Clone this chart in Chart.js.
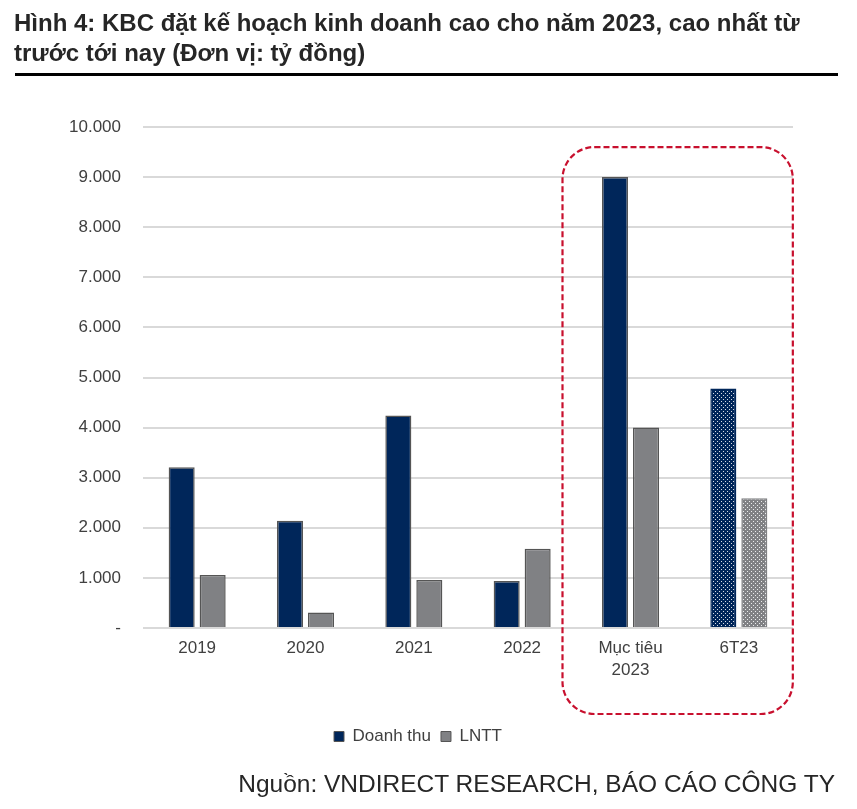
<!DOCTYPE html>
<html>
<head>
<meta charset="utf-8">
<script src="https://cdn.jsdelivr.net/npm/chart.js@4"></script>
<style>
  body { margin: 0; background: #fff; font-family: "Liberation Sans", Arial, sans-serif; }
  #wrap { position: relative; width: 857px; height: 809px; overflow: hidden; }
  #myChart { position: absolute; left: 0; top: 0; }
  #titulo { position: absolute; left: 14px; top: 8px; font-size: 24px; font-weight: bold; line-height: 30px; color: #262626; }
  #regla { position: absolute; left: 15px; top: 73px; width: 823px; height: 3px; background: #000; }
  #fuente { position: absolute; right: 22px; top: 770px; font-size: 24.5px; color: #262626; }
</style>
</head>
<body>
<div id="wrap">
  <canvas id="myChart" width="857" height="809"></canvas>
  <div id="titulo">Hình 4: KBC đặt kế hoạch kinh doanh cao cho năm 2023, cao nhất từ<br>trước tới nay (Đơn vị: tỷ đồng)</div>
  <div id="regla"></div>
  <div id="fuente">Nguồn: VNDIRECT RESEARCH, BÁO CÁO CÔNG TY</div>
</div>
<script>
const categorias = ["2019", "2020", "2021", "2022", ["Mục tiêu", "2023"], "6T23"];
const doanhThu = [3210, 2140, 4240, 940, 9000, 4780];
const lntt = [1060, 310, 960, 1580, 4000, 2590];
const yMax = 10000;
const yPaso = 1000;

const azul = "#00265a";
const gris = "#808184";

function crearPatron(color) {
  const c = document.createElement("canvas");
  c.width = 4;
  c.height = 4;
  const ctx = c.getContext("2d");
  ctx.fillStyle = color;
  ctx.fillRect(0, 0, 4, 4);
  ctx.fillStyle = "rgba(255,255,255,0.85)";
  ctx.fillRect(1, 1, 1, 1);
  ctx.fillRect(3, 3, 1, 1);
  return ctx.createPattern(c, "repeat");
}

const patronAzul = crearPatron(azul);
const patronGris = crearPatron(gris);

const fondosDT = doanhThu.map((v, i) => (i === 5 ? patronAzul : azul));
const fondosLN = lntt.map((v, i) => (i === 5 ? patronGris : gris));
const bordesDT = doanhThu.map((v, i) => (i === 5 ? azul : "#555"));
const bordesLN = lntt.map((v, i) => (i === 5 ? gris : "#555"));

function formatoMiles(v) {
  if (v === 0) return "-";
  return String(v).replace(/\B(?=(\d{3})+(?!\d))/g, ".");
}

// recuadro rojo punteado alrededor de 2023
const marcoRojo = {
  id: "marcoRojo",
  afterDatasetsDraw(chart) {
    const { ctx, scales: { x, y } } = chart;
    const izq = x.getPixelForValue(4) - 68;
    const der = x.getPixelForValue(5) + 54;
    const arriba = y.getPixelForValue(9600);
    const abajo = y.getPixelForValue(0) + 86;
    ctx.save();
    ctx.strokeStyle = "#c8102e";
    ctx.lineWidth = 2.2;
    ctx.setLineDash([6, 3]);
    ctx.beginPath();
    ctx.roundRect(izq, arriba, der - izq, abajo - arriba, 32);
    ctx.stroke();
    ctx.restore();
  },
};

const miGraf = document.querySelector("#myChart");
const myChart = new Chart(miGraf, {
  type: "bar",
  data: {
    labels: categorias,
    datasets: [
      {
        label: "Doanh thu",
        data: doanhThu,
        backgroundColor: fondosDT,
        borderColor: bordesDT,
        borderWidth: 1.5,
      },
      {
        label: "LNTT",
        data: lntt,
        backgroundColor: fondosLN,
        borderColor: bordesLN,
        borderWidth: 1.5,
      },
    ],
  },
  options: {
    responsive: false,
    animation: false,
    categoryPercentage: 0.572,
    barPercentage: 0.84,
    layout: { padding: { top: 127, left: 43, right: 64, bottom: 54 } },
    plugins: {
      tooltip: { enabled: false },
      legend: {
        position: "bottom",
        labels: {
          boxWidth: 10,
          boxHeight: 10,
          padding: 10,
          color: "#404040",
          font: { family: "'Liberation Sans', Arial, sans-serif", size: 17 },
          generateLabels: (chart) =>
            chart.data.datasets.map((ds, i) => ({
              text: ds.label,
              fillStyle: i === 0 ? azul : gris,
              strokeStyle: "#555",
              lineWidth: 1,
              datasetIndex: i,
              fontColor: "#404040",
            })),
        },
      },
    },
    scales: {
      x: {
        grid: { display: false },
        border: { display: false },
        ticks: {
          color: "#404040",
          padding: 1,
          maxRotation: 0,
          font: { family: "'Liberation Sans', Arial, sans-serif", size: 17, lineHeight: 1.3 },
        },
        afterFit: (scale) => {
          scale.height = 90;
        },
      },
      y: {
        min: 0,
        max: yMax,
        grid: { color: "#d9d9d9", lineWidth: 2, drawTicks: false },
        border: { display: false },
        ticks: {
          stepSize: yPaso,
          padding: 22,
          color: "#404040",
          font: { family: "'Liberation Sans', Arial, sans-serif", size: 17 },
          callback: (v) => formatoMiles(v),
        },
        afterFit: (scale) => {
          scale.width = 100;
        },
      },
    },
  },
  plugins: [marcoRojo],
});
</script>
</body>
</html>
